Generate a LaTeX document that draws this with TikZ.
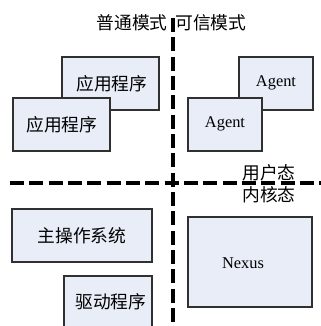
\documentclass[tikz,border=0pt]{standalone}
\usepackage{fontspec}
\setmainfont{Liberation Serif}
\newfontfamily\cjk{Noto Sans CJK SC}
\definecolor{boxfill}{HTML}{E8EDF8}
\definecolor{boxline}{HTML}{303030}
\begin{document}
\begin{tikzpicture}[x=0.75pt,y=-0.75pt,
  box/.style={draw=boxline,line width=0.8pt,fill=boxfill},
  sep/.style={line width=2.3pt,dash pattern=on 10.5pt off 4pt},
  cn/.style={font=\cjk\fontsize{13.3}{15}\selectfont,inner sep=0pt},
  en/.style={font=\fontsize{12.3}{14}\selectfont,inner sep=0pt}]
\useasboundingbox (0,0) rectangle (321,326);
\clip (0,0) rectangle (321,326);
% boxes
\path[box] (62,57) rectangle (159,110);
\node[cn] (app2) at (112,84) {应用程序};
\path[box] (13,98) rectangle (110,151);
\node[cn] (app1) at (62,125) {应用程序};
\path[box] (239,57) rectangle (313,110);
\node[en] (ag2) at (276,83) {Agent};
\path[box] (188,98) rectangle (262,151);
\node[en] (ag1) at (225,124) {Agent};
\path[box] (12,209) rectangle (152,262);
\node[cn] (os) at (82,236) {主操作系统};
\path[box] (64,276) rectangle (152,340);
\node[cn] (drv) at (111,302) {驱动程序};
\path[box] (188,217) rectangle (312,307);
\node[en] (nx) at (243,263) {Nexus};
% separators
\coordinate (vtop) at (173,18);
\coordinate (vbot) at (173,330);
\coordinate (hl) at (10,183);
\coordinate (hr) at (325,183);
\draw[sep] (vtop) -- (vbot);
\draw[sep] (hl) -- (hr);
% labels
\node[cn,anchor=east] (normal) at (168,23) {普通模式};
\node[cn,anchor=west] (trusted) at (175,23) {可信模式};
\node[cn] (user) at (269,173) {用户态};
\node[cn] (kernel) at (269,195) {内核态};
\end{tikzpicture}
\end{document}
